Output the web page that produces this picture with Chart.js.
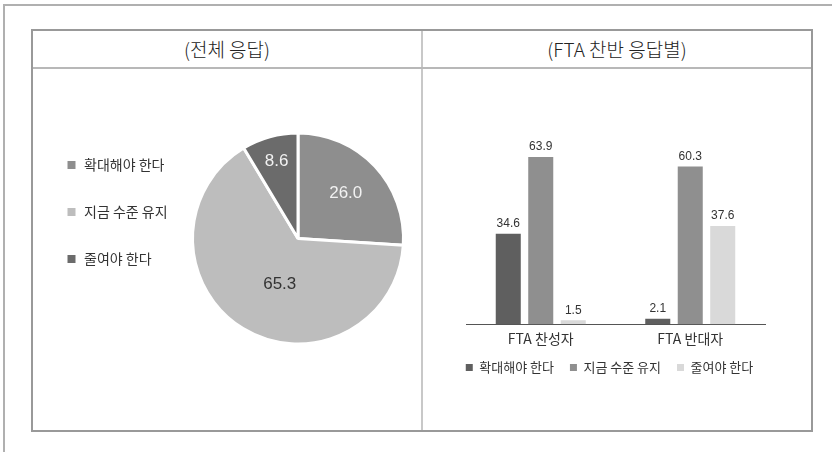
<!DOCTYPE html>
<html>
<head>
<meta charset="utf-8">
<script src="https://cdn.jsdelivr.net/npm/chart.js@4.4.1/dist/chart.umd.min.js"></script>
<style>
body { margin: 0; width: 832px; height: 452px; position: relative; background: #fff; overflow: hidden;
  font-family: 'Liberation Sans', 'Noto Sans CJK KR', sans-serif; }
.ln { position: absolute; }
.head { position: absolute; top: 31px; height: 37px; line-height: 36px; text-align: center;
  font-family: 'Noto Sans CJK KR', sans-serif; font-weight: 300; font-size: 19px; color: #222; }
canvas { position: absolute; }
</style>
</head>
<body>
<!-- page frame -->
<div class="ln" style="left:3px;top:4px;width:829px;height:2px;background:#b0b0b0"></div>
<div class="ln" style="left:3px;top:4px;width:2px;height:448px;background:#b0b0b0"></div>
<!-- table -->
<div class="ln" style="left:31px;top:29px;width:782px;height:2px;background:#999"></div>
<div class="ln" style="left:31px;top:430px;width:782px;height:2px;background:#999"></div>
<div class="ln" style="left:31px;top:29px;width:2px;height:403px;background:#999"></div>
<div class="ln" style="left:811px;top:29px;width:2px;height:403px;background:#999"></div>
<div class="ln" style="left:421px;top:31px;width:2px;height:399px;background:#c8c8c8"></div>
<div class="ln" style="left:33px;top:67px;width:778px;height:2px;background:#b8b8b8"></div>
<div class="head" style="left:33px;width:388px">(전체 응답)</div>
<div class="head" style="left:423px;width:388px">(FTA 찬반 응답별)</div>

<canvas id="pieChart" style="left:33px;top:69px" width="388" height="361"></canvas>
<canvas id="barChart" style="left:423px;top:69px" width="388" height="361"></canvas>

<script>
// 전체 응답
const pieLabelsKo = ['확대해야 한다', '지금 수준 유지', '줄여야 한다']
const pieValues = [26.0, 65.3, 8.6]
const pieColors = ['#8e8e8e', '#bdbdbd', '#6b6b6b']

// FTA 찬반 응답별
const groups = ['FTA 찬성자', 'FTA 반대자']
const seriesNames = ['확대해야 한다', '지금 수준 유지', '줄여야 한다']
const expandVals = [34.6, 2.1]
const keepVals = [63.9, 60.3]
const reduceVals = [1.5, 37.6]
const barColors = ['#5f5f5f', '#8f8f8f', '#d9d9d9']

// legend column is wider than its text in the reference
const legendWidth = {
    id: 'legendWidth',
    beforeInit(chart) {
        const fit = chart.legend.fit
        chart.legend.fit = function () {
            fit.bind(chart.legend)()
            this.width = 158
        }
    }
}

// keep the bar legend on one row and close to the axis labels
const legendRow = {
    id: 'legendRow',
    beforeInit(chart) {
        const fit = chart.legend.fit
        chart.legend.fit = function () {
            this.maxWidth = 380
            fit.bind(chart.legend)()
        }
    },
    afterLayout(chart) {
        const lg = chart.legend
        lg.left = chart.chartArea.left - 52
        lg.right = chart.chartArea.right + 40
        lg.top -= 8
        lg.bottom -= 8
    }
}

const pieText = {
    id: 'pieText',
    afterDatasetsDraw(chart, args, opts) {
        const ctx = chart.ctx
        ctx.save()
        ctx.font = '17px "Liberation Sans", Arial, sans-serif'
        ctx.textAlign = 'center'
        ctx.textBaseline = 'middle'
        chart.getDatasetMeta(0).data.forEach((arc, i) => {
            const mid = (arc.startAngle + arc.endAngle) / 2 + opts.shift[i]
            const r = arc.outerRadius * opts.radius[i]
            ctx.fillStyle = opts.colors[i]
            ctx.fillText(pieValues[i].toFixed(1), arc.x + Math.cos(mid) * r, arc.y + Math.sin(mid) * r)
        })
        ctx.restore()
    }
}

const barText = {
    id: 'barText',
    afterDatasetsDraw(chart) {
        const ctx = chart.ctx
        ctx.save()
        ctx.font = '12px "Liberation Sans", Arial, sans-serif'
        ctx.fillStyle = '#333'
        ctx.textAlign = 'center'
        ctx.textBaseline = 'bottom'
        chart.data.datasets.forEach((ds, d) => {
            chart.getDatasetMeta(d).data.forEach((bar, i) => {
                ctx.fillText(ds.data[i].toFixed(1), bar.x, bar.y - 4)
            })
        })
        ctx.restore()
    }
}

new Chart(document.getElementById('pieChart'), {
    type: 'pie',
    data: {
        labels: pieLabelsKo,
        datasets: [{
            data: pieValues,
            backgroundColor: pieColors,
            borderColor: '#fff',
            borderWidth: 3
        }]
    },
    options: {
        responsive: false,
        animation: false,
        layout: { padding: { left: 0, right: 16, top: 56, bottom: 78 } },
        plugins: {
            tooltip: { enabled: false },
            legend: {
                position: 'left',
                align: 'start',
                labels: {
                    boxWidth: 11,
                    boxHeight: 11,
                    padding: 33,
                    color: '#333',
                    font: { size: 14, family: '"Noto Sans CJK KR", sans-serif' }
                }
            },
            pieText: {
                radius: [0.62, 0.47, 0.76],
                shift: [0, -0.17, 0],
                colors: ['#f2f2f2', '#333', '#f2f2f2']
            }
        }
    },
    plugins: [legendWidth, pieText]
})

new Chart(document.getElementById('barChart'), {
    type: 'bar',
    data: {
        labels: groups,
        datasets: [
            { label: seriesNames[0], data: expandVals, backgroundColor: barColors[0] },
            { label: seriesNames[1], data: keepVals, backgroundColor: barColors[1] },
            { label: seriesNames[2], data: reduceVals, backgroundColor: barColors[2] }
        ]
    },
    options: {
        responsive: false,
        animation: false,
        categoryPercentage: 0.652,
        barPercentage: 0.77,
        layout: { padding: { left: 43, right: 46, top: 46, bottom: 38 } },
        scales: {
            x: {
                grid: { display: false, drawTicks: false },
                border: { color: '#555', width: 1 },
                ticks: { color: '#333', padding: 6, font: { size: 14, family: '"Noto Sans CJK KR", sans-serif' } }
            },
            y: { display: false, min: 0, max: 80 }
        },
        plugins: {
            tooltip: { enabled: false },
            legend: {
                position: 'bottom',
                labels: {
                    boxWidth: 7,
                    boxHeight: 7,
                    padding: 16,
                    color: '#333',
                    font: { size: 13, family: '"Noto Sans CJK KR", sans-serif' }
                }
            }
        }
    },
    plugins: [barText, legendRow]
})
</script>
</body>
</html>
